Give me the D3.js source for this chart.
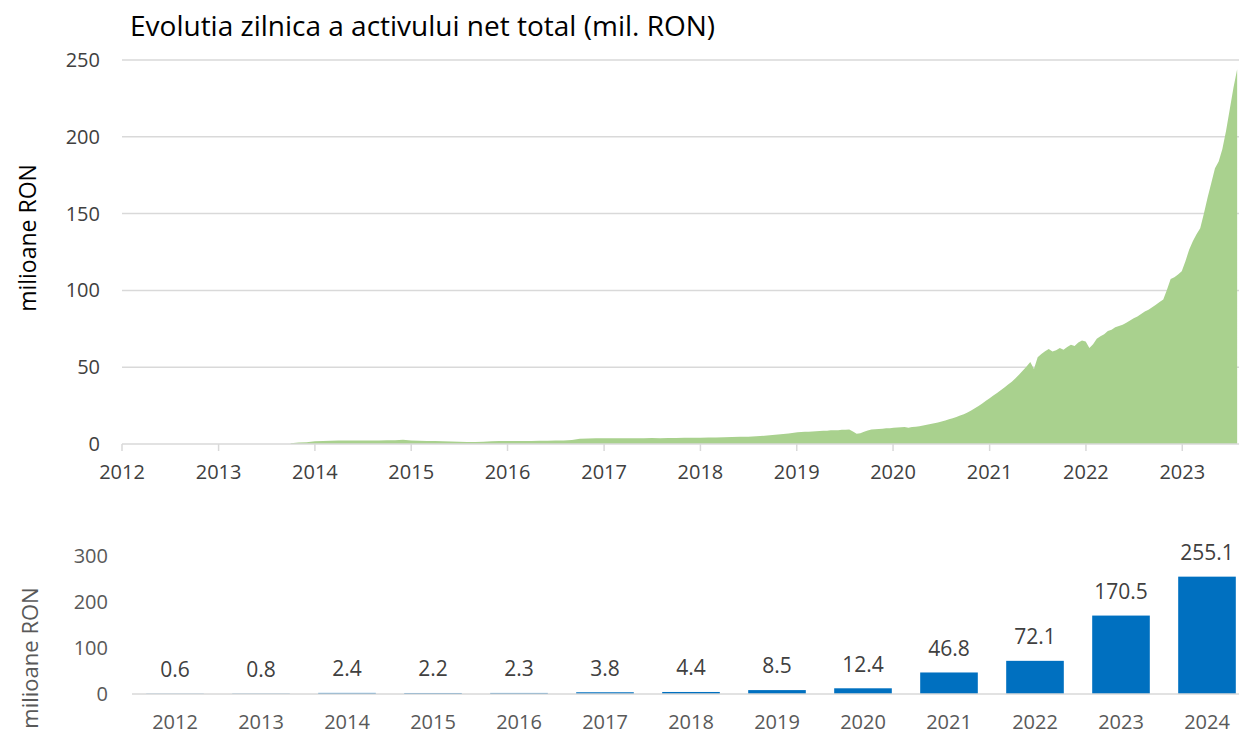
<!DOCTYPE html>
<html>
<head>
<meta charset="utf-8">
<script src="https://cdn.jsdelivr.net/npm/d3@7"></script>
<style>
  body { margin: 0; background: #fff; }
  text { font-family: "Open Sans", "Noto Sans", sans-serif; }
</style>
</head>
<body>
<script>
// daily net asset evolution (mil. RON)
var monthlyStart = "2013-10-01";
var monthlyValues = [
  0.5, 0.9, 1.2,
  1.8, 2.0, 2.1, 2.2, 2.2, 2.3, 2.3, 2.2, 2.3, 2.4, 2.5, 2.7,
  2.2, 2.1, 2.0, 1.9, 1.8, 1.6, 1.4, 1.3, 1.3, 1.4, 1.8, 1.9,
  1.9, 1.9, 2.0, 2.0, 2.1, 2.1, 2.2, 2.3, 2.6, 3.4, 3.6, 3.7,
  3.7, 3.8, 3.8, 3.7, 3.8, 3.8, 3.9, 3.8, 3.9, 3.9, 4.0, 4.0,
  4.1, 4.2, 4.3, 4.4, 4.5, 4.7, 4.8, 5.0, 5.4, 5.8, 6.3, 6.9
];
var biweeklyStart = "2019-01-04";
var biweeklyValues = [
  7.6, 7.8, 7.9, 8.0, 8.2, 8.3, 8.4, 8.6, 8.7, 8.9, 9.0, 9.0, 9.2,
  9.3, 9.4, 8.2, 6.7, 7.0, 8.0, 8.8, 9.4, 9.6, 9.8, 10.0, 10.2, 10.3,
  10.5, 10.7, 10.9, 11.0, 10.6, 11.0, 11.3, 11.6, 12.0, 12.5, 13.0, 13.5, 14.0,
  14.6, 15.3, 16.1, 16.8, 17.6, 18.5, 19.4, 20.5, 21.8, 23.2, 24.8, 26.4, 28.2,
  29.8, 31.5, 33.2, 35.0, 36.8, 38.7, 40.6, 42.8, 45.3, 47.8, 50.5, 53.4, 48.8,
  56.5, 58.6, 60.4, 61.8, 60.2, 61.0, 62.5, 61.4, 63.2, 64.6, 63.8, 66.0, 67.4,
  66.8, 62.5, 65.0, 68.6, 70.2, 71.4, 73.6, 74.4, 76.0, 76.8, 77.6, 79.0, 80.4,
  81.8, 83.0, 84.6, 86.2, 87.4, 89.0, 90.6, 92.4, 94.0, 100.5, 107.5, 108.6, 110.4,
  112.5, 119.0, 126.5, 132.0, 136.5, 140.5, 150.0, 160.5, 170.0, 179.5, 184.0, 192.0,
  204.0, 218.0, 232.0, 244.0
];
var topYTicks = [0, 50, 100, 150, 200, 250];
var topYears = [2012, 2013, 2014, 2015, 2016, 2017, 2018, 2019, 2020, 2021, 2022, 2023];

// yearly values for the bar chart
var barYears = ["2012", "2013", "2014", "2015", "2016", "2017", "2018", "2019", "2020", "2021", "2022", "2023", "2024"];
var barValues = [0.6, 0.8, 2.4, 2.2, 2.3, 3.8, 4.4, 8.5, 12.4, 46.8, 72.1, 170.5, 255.1];
var barYTicks = [0, 100, 200, 300];

var width = 1239, height = 735;
var parse = d3.timeParse("%Y-%m-%d");

var series = [];
monthlyValues.forEach(function(v, i) {
  series.push({ date: d3.timeMonth.offset(parse(monthlyStart), i), value: v });
});
biweeklyValues.forEach(function(v, i) {
  series.push({ date: d3.timeDay.offset(parse(biweeklyStart), i * 14), value: v });
});

var svg = d3.select("body").append("svg")
  .attr("width", width)
  .attr("height", height);

// ---------- top chart ----------
var x = d3.scaleTime()
  .domain([new Date(2012, 0, 1), new Date(2023, 7, 4)])
  .range([122, 1239]);
var y = d3.scaleLinear().domain([0, 250]).range([444, 60]);

svg.append("text")
  .attr("x", 130).attr("y", 36)
  .attr("font-size", "28px")
  .attr("fill", "#000")
  .text("Evolutia zilnica a activului net total (mil. RON)");

svg.append("g").selectAll("line").data(topYTicks.slice(1)).enter().append("line")
  .attr("x1", 122).attr("x2", width)
  .attr("y1", function(d) { return y(d); })
  .attr("y2", function(d) { return y(d); })
  .attr("stroke", "#d9d9d9").attr("stroke-width", 1.5);

var area = d3.area()
  .x(function(d) { return x(d.date); })
  .y0(y(0))
  .y1(function(d) { return y(d.value); });

svg.append("path").datum(series)
  .attr("d", area)
  .attr("fill", "#a9d18e");

svg.append("line")
  .attr("x1", 122).attr("x2", width)
  .attr("y1", y(0)).attr("y2", y(0))
  .attr("stroke", "#d9d9d9").attr("stroke-width", 1.5);

svg.append("g").selectAll("line").data(topYears).enter().append("line")
  .attr("x1", function(d) { return x(new Date(d, 0, 1)); })
  .attr("x2", function(d) { return x(new Date(d, 0, 1)); })
  .attr("y1", y(0)).attr("y2", y(0) + 7)
  .attr("stroke", "#d9d9d9").attr("stroke-width", 1.5);

svg.append("g").selectAll("text").data(topYTicks).enter().append("text")
  .attr("x", 100)
  .attr("y", function(d) { return y(d); })
  .attr("dy", "0.35em")
  .attr("text-anchor", "end")
  .attr("font-size", "20px")
  .attr("fill", "#404040")
  .text(function(d) { return d; });

svg.append("g").selectAll("text").data(topYears).enter().append("text")
  .attr("x", function(d) { return x(new Date(d, 0, 1)); })
  .attr("y", 472)
  .attr("dy", "0.35em")
  .attr("text-anchor", "middle")
  .attr("font-size", "20px")
  .attr("fill", "#404040")
  .text(function(d) { return d; });

svg.append("text")
  .attr("transform", "translate(28,238) rotate(-90)")
  .attr("dy", "0.35em")
  .attr("text-anchor", "middle")
  .attr("font-size", "23px")
  .attr("fill", "#000")
  .text("milioane RON");

// ---------- bottom chart ----------
var xb = d3.scaleBand().domain(barYears).range([132, 1250]).paddingInner(0.33).paddingOuter(0.165);
var yb = d3.scaleLinear().domain([0, 300]).range([694, 556]);

svg.append("g").selectAll("rect").data(barValues).enter().append("rect")
  .attr("x", function(d, i) { return xb(barYears[i]); })
  .attr("y", function(d) { return yb(d); })
  .attr("width", xb.bandwidth())
  .attr("height", function(d) { return yb(0) - yb(d); })
  .attr("fill", "#0070c0");

svg.append("line")
  .attr("x1", 132).attr("x2", width)
  .attr("y1", yb(0)).attr("y2", yb(0))
  .attr("stroke", "#d9d9d9").attr("stroke-width", 1.5);

svg.append("g").selectAll("text").data(barValues).enter().append("text")
  .attr("x", function(d, i) { return xb(barYears[i]) + xb.bandwidth() / 2; })
  .attr("y", function(d) { return yb(d) - 24; })
  .attr("dy", "0.35em")
  .attr("text-anchor", "middle")
  .attr("font-size", "21px")
  .attr("fill", "#404040")
  .text(function(d) { return d.toFixed(1); });

svg.append("g").selectAll("text").data(barYTicks).enter().append("text")
  .attr("x", 108)
  .attr("y", function(d) { return yb(d); })
  .attr("dy", "0.35em")
  .attr("text-anchor", "end")
  .attr("font-size", "20px")
  .attr("fill", "#595959")
  .text(function(d) { return d; });

svg.append("g").selectAll("text").data(barYears).enter().append("text")
  .attr("x", function(d) { return xb(d) + xb.bandwidth() / 2; })
  .attr("y", 722)
  .attr("dy", "0.35em")
  .attr("text-anchor", "middle")
  .attr("font-size", "20px")
  .attr("fill", "#595959")
  .text(function(d) { return d; });

svg.append("text")
  .attr("transform", "translate(30,658) rotate(-90)")
  .attr("dy", "0.35em")
  .attr("text-anchor", "middle")
  .attr("font-size", "22px")
  .attr("fill", "#595959")
  .text("milioane RON");
</script>
</body>
</html>
